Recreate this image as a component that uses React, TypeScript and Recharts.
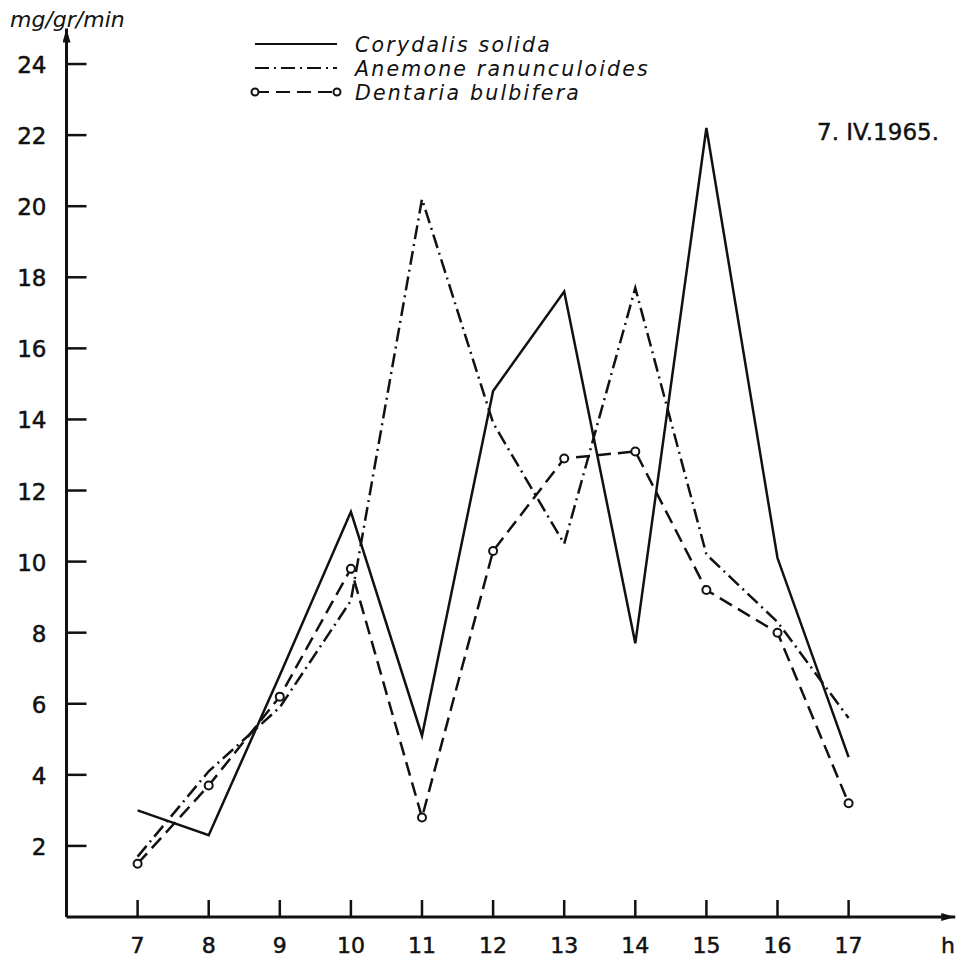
import { LineChart, Line, XAxis, YAxis } from "recharts";

// Nectar/sugar secretion curves, 7. IV.1965.
const hours = [7, 8, 9, 10, 11, 12, 13, 14, 15, 16, 17];
const corydalis = [3.0, 2.3, 6.8, 11.4, 5.1, 14.8, 17.6, 7.7, 22.2, 10.1, 4.5];
const anemone = [1.7, 4.1, 5.9, 8.9, 20.2, 13.9, 10.5, 17.7, 10.2, 8.3, 5.6];
const dentaria = [1.5, 3.7, 6.2, 9.8, 2.8, 10.3, 12.9, 13.1, 9.2, 8.0, 3.2];

const xTicks = [7, 8, 9, 10, 11, 12, 13, 14, 15, 16, 17];
const yTicks = [2, 4, 6, 8, 10, 12, 14, 16, 18, 20, 22, 24];

const seriesNames = ["Corydalis solida", "Anemone ranunculoides", "Dentaria bulbifera"];
const unitLabel = "mg/gr/min";
const hourLabel = "h";
const dateLabel = "7. IV.1965.";

const INK = "#111";
const FONT = "'DejaVu Sans', 'Liberation Sans', sans-serif";

const DASH_DOT = "14 5 2 5";
const DASHED = "14 7";

const data = hours.map((h, i) => ({
  hour: h,
  corydalis: corydalis[i],
  anemone: anemone[i],
  dentaria: dentaria[i],
}));

function XTick(props: any) {
  const { x, y, payload } = props;
  return (
    <g>
      <line x1={x} y1={y} x2={x} y2={y - 17} stroke={INK} strokeWidth={2.5} />
      <text x={x} y={y + 36} textAnchor="middle" fontFamily={FONT} fontSize={22} fill={INK} stroke={INK} strokeWidth={0.5}>
        {payload.value}
      </text>
    </g>
  );
}

function YTick(props: any) {
  const { x, y, payload } = props;
  return (
    <g>
      <line x1={x} y1={y} x2={x + 20} y2={y} stroke={INK} strokeWidth={2.5} />
      <text x={x - 20} y={y + 9} textAnchor="end" fontFamily={FONT} fontSize={23} fill={INK} stroke={INK} strokeWidth={0.5}>
        {payload.value}
      </text>
    </g>
  );
}

function Overlay() {
  const rows = [
    { y: 44, dash: undefined as string | undefined, circles: false },
    { y: 68, dash: DASH_DOT, circles: false },
    { y: 92, dash: DASHED, circles: true },
  ];
  return (
    <svg width={959} height={960} style={{ position: "absolute", left: 0, top: 0, pointerEvents: "none" }}>
      <defs>
        <marker
          id="arrowHead"
          viewBox="0 0 14 8"
          refX={14}
          refY={4}
          markerWidth={14}
          markerHeight={8}
          markerUnits="userSpaceOnUse"
          orient="auto-start-reverse"
        >
          <path d="M0,0 L14,4 L0,8 z" fill={INK} />
        </marker>
      </defs>

      <text x={10} y={27} fontFamily={FONT} fontSize={22} fontStyle="italic" fill={INK}>
        {unitLabel}
      </text>
      <text x={948} y={953} textAnchor="middle" fontFamily={FONT} fontSize={22} fill={INK} stroke={INK} strokeWidth={0.4}>
        {hourLabel}
      </text>
      <text x={817} y={140} fontFamily={FONT} fontSize={23} fill={INK} stroke={INK} strokeWidth={0.4}>
        {dateLabel}
      </text>

      {rows.map((r, i) => (
        <g key={seriesNames[i]}>
          <line
            x1={255}
            y1={r.y}
            x2={337}
            y2={r.y}
            stroke={INK}
            strokeWidth={2}
            strokeDasharray={r.dash}
          />
          {r.circles && (
            <>
              <circle cx={255} cy={r.y} r={3.5} fill="#fff" stroke={INK} strokeWidth={2} />
              <circle cx={337} cy={r.y} r={3.5} fill="#fff" stroke={INK} strokeWidth={2} />
            </>
          )}
          <text
            x={355}
            y={r.y + 8}
            fontFamily={FONT}
            fontSize={20.5}
            fontStyle="italic"
            letterSpacing={2.2}
            fill={INK}
          >
            {seriesNames[i]}
          </text>
        </g>
      ))}
    </svg>
  );
}

export default function App() {
  return (
    <div style={{ position: "absolute", left: 0, top: 0, width: 959, height: 960, background: "#fff", fontFamily: FONT }}>
      <Overlay />
      <LineChart width={959} height={960} data={data} margin={{ top: 28.5, right: 3.75, bottom: 0, left: 0 }}>
        <XAxis
          dataKey="hour"
          type="number"
          domain={[6, 18.5]}
          ticks={xTicks}
          height={43}
          tickSize={0}
          tickMargin={0}
          tickLine={false}
          interval={0}
          axisLine={{ stroke: INK, strokeWidth: 3, markerEnd: "url(#arrowHead)" }}
          tick={XTick}
        />
        <YAxis
          type="number"
          domain={[0, 25]}
          ticks={yTicks}
          width={66.5}
          tickSize={0}
          tickMargin={0}
          tickLine={false}
          interval={0}
          axisLine={{ stroke: INK, strokeWidth: 3, markerStart: "url(#arrowHead)" }}
          tick={YTick}
        />
        <Line
          dataKey="corydalis"
          name={seriesNames[0]}
          type="linear"
          stroke={INK}
          strokeWidth={2.5}
          dot={false}
          isAnimationActive={false}
        />
        <Line
          dataKey="anemone"
          name={seriesNames[1]}
          type="linear"
          stroke={INK}
          strokeWidth={2.5}
          strokeDasharray={DASH_DOT}
          dot={false}
          isAnimationActive={false}
        />
        <Line
          dataKey="dentaria"
          name={seriesNames[2]}
          type="linear"
          stroke={INK}
          strokeWidth={2.5}
          strokeDasharray={DASHED}
          dot={{ r: 4, fill: "#fff", stroke: INK, strokeWidth: 2, strokeDasharray: "none" }}
          isAnimationActive={false}
        />
      </LineChart>
    </div>
  );
}
